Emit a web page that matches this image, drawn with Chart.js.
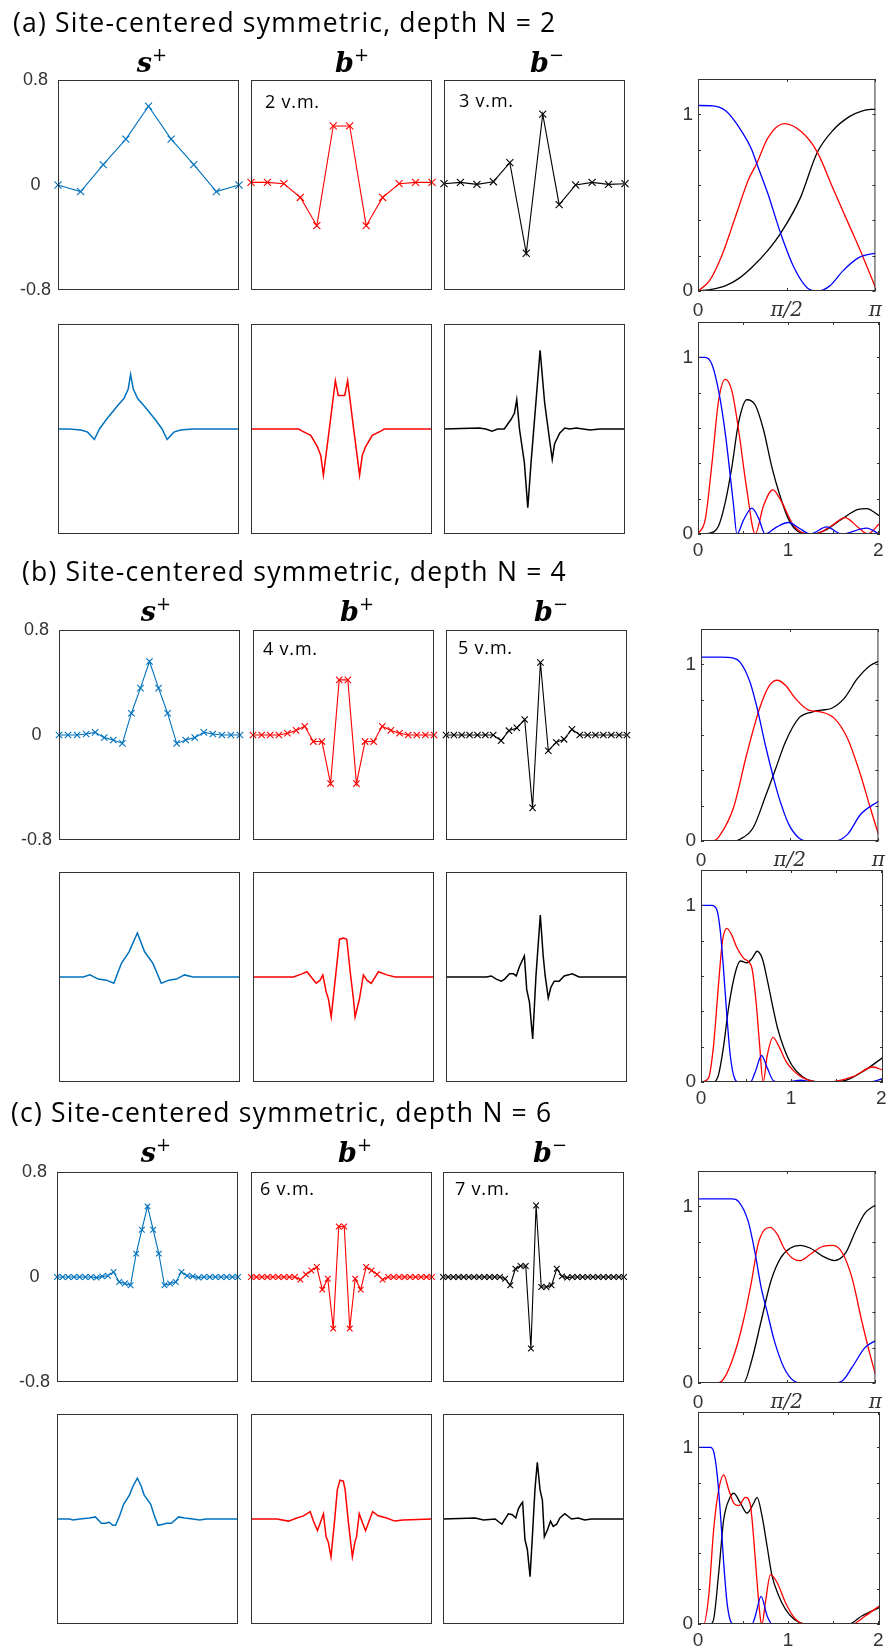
<!DOCTYPE html>
<html>
<head>
<meta charset="utf-8">
<script src="https://cdn.jsdelivr.net/npm/chart.js@4.4.1/dist/chart.umd.min.js"></script>
<style>
  body { margin: 0; background: #fff; }
  #page { position: relative; width: 890px; height: 1649px; overflow: hidden; background: #fff; }
  canvas { position: absolute; z-index: 1; }
  #labels { position: absolute; left: 0; top: 0; z-index: 2; pointer-events: none; }
</style>
</head>
<body>
<div id="page">
<svg id="labels" width="890" height="1649" xmlns="http://www.w3.org/2000/svg">
  <g font-family="Open Sans" font-size="26.5" letter-spacing="1.2" fill="#000">
    <text x="13" y="32">(a) Site-centered symmetric, depth N = 2</text>
    <text x="22" y="581">(b) Site-centered symmetric, depth N = 4</text>
    <text x="11" y="1122">(c) Site-centered symmetric, depth N = 6</text>
  </g>
  <g font-family="DejaVu Serif" font-weight="bold" font-style="italic" font-size="27" text-anchor="middle">
    <text x="152" y="72">s<tspan font-style="normal" font-weight="normal" font-size="18" dy="-11">+</tspan></text>
    <text x="352" y="72">b<tspan font-style="normal" font-weight="normal" font-size="18" dy="-11">+</tspan></text>
    <text x="547" y="72">b<tspan font-style="normal" font-weight="normal" font-size="18" dy="-11">−</tspan></text>
    <text x="156" y="621">s<tspan font-style="normal" font-weight="normal" font-size="18" dy="-11">+</tspan></text>
    <text x="357" y="621">b<tspan font-style="normal" font-weight="normal" font-size="18" dy="-11">+</tspan></text>
    <text x="551" y="621">b<tspan font-style="normal" font-weight="normal" font-size="18" dy="-11">−</tspan></text>
    <text x="156" y="1162">s<tspan font-style="normal" font-weight="normal" font-size="18" dy="-11">+</tspan></text>
    <text x="355" y="1162">b<tspan font-style="normal" font-weight="normal" font-size="18" dy="-11">+</tspan></text>
    <text x="550" y="1162">b<tspan font-style="normal" font-weight="normal" font-size="18" dy="-11">−</tspan></text>
  </g>
  <g font-family="Open Sans" font-size="18" letter-spacing="0.8" fill="#000">
    <text x="265" y="108">2 v.m.</text>
    <text x="459" y="107">3 v.m.</text>
    <text x="263" y="655">4 v.m.</text>
    <text x="458" y="654">5 v.m.</text>
    <text x="260" y="1195">6 v.m.</text>
    <text x="455" y="1195">7 v.m.</text>
  </g>
</svg>
</div>
<script>
// ---- (a) depth N = 2 ----
const sPlusA = [0, -0.05, 0.155, 0.35, 0.6, 0.35, 0.155, -0.05, 0];
const bPlusA = [0.02, 0.02, 0.01, -0.095, -0.31, 0.45, 0.45, -0.31, -0.095, 0.01, 0.02, 0.02];
const bMinusA = [0.01, 0.02, 0.005, 0.025, 0.17, -0.52, 0.54, -0.15, 0, 0.02, 0.005, 0.01];

const sFineAx = [0, 6.2, 12.7, 16.4, 20.1, 22.9, 26.7, 32.3, 36.4, 38.8, 40.1, 41.6, 44.0, 48.1, 53.7, 57.5, 60.3, 64.0, 67.7, 74.3, 80.8, 100];
const sFineAy = [0, 0, -0.01, -0.03, -0.1, 0, 0.09, 0.21, 0.29, 0.38, 0.52, 0.38, 0.29, 0.21, 0.09, 0, -0.1, -0.03, -0.01, 0, 0, 0];
const bpFineAx = [0, 19.9, 26.4, 28.3, 33.0, 36.7, 38.5, 40.0, 43.2, 46.6, 48.2, 51.8, 53.4, 56.8, 60.0, 61.5, 63.3, 67.0, 71.7, 73.6, 80.1, 100];
const bpFineAy = [0, 0, 0, -0.02, -0.06, -0.17, -0.25, -0.44, -0.01, 0.46, 0.32, 0.32, 0.46, -0.01, -0.44, -0.25, -0.17, -0.06, -0.02, 0, 0, 0];
const bmFineAx = [0, 19.4, 23.1, 26.5, 29.6, 33.3, 37.0, 38.9, 40.2, 41.7, 44.4, 46.3, 48.1, 50.9, 53.1, 55.6, 58.3, 59.8, 61.1, 63.9, 66.7, 69.4, 73.1, 80.6, 86.1, 100];
const bmFineAy = [0, 0.01, 0, -0.02, 0, 0, 0.09, 0.15, 0.28, 0, -0.32, -0.75, -0.32, 0.28, 0.75, 0.25, -0.1, -0.29, -0.14, -0.04, 0.01, 0, 0.01, -0.01, 0, 0];

// response over 0..pi (x in units of pi)
const respA_blue_x = [0, 0.083, 0.156, 0.229, 0.303, 0.330, 0.394, 0.468, 0.541, 0.615, 0.679, 0.743, 0.817, 0.908, 1.0];
const respA_blue_y = [1.05, 1.048, 1.02, 0.93, 0.80, 0.724, 0.55, 0.32, 0.133, 0.019, 0, 0.029, 0.114, 0.19, 0.215];
const respA_red_x = [0, 0.064, 0.138, 0.211, 0.284, 0.330, 0.394, 0.486, 0.578, 0.670, 0.761, 0.853, 0.927, 1.0];
const respA_red_y = [0, 0.057, 0.21, 0.42, 0.63, 0.72, 0.867, 0.947, 0.905, 0.79, 0.58, 0.37, 0.2, 0.02];
const respA_black_x = [0, 0.083, 0.156, 0.229, 0.303, 0.394, 0.468, 0.578, 0.670, 0.761, 0.853, 0.927, 1.0];
const respA_black_y = [0, 0.01, 0.03, 0.07, 0.133, 0.23, 0.33, 0.53, 0.78, 0.91, 0.987, 1.02, 1.03];

const zoomA_blue_x = [0, 0.081, 0.155, 0.229, 0.303, 0.358, 0.395, 0.432, 0.506, 0.598, 0.672, 0.745, 0.875, 1.004, 1.133, 1.244, 1.428, 1.594, 1.871, 2.011];
const zoomA_blue_y = [1.0, 1.0, 0.96, 0.81, 0.57, 0.33, 0.16, 0.0, 0.08, 0.146, 0.09, 0.0, 0.04, 0.065, 0.03, 0.0, 0.04, 0.0, 0.033, 0.0];
const zoomA_red_x = [0, 0.081, 0.155, 0.229, 0.303, 0.376, 0.450, 0.542, 0.635, 0.727, 0.830, 0.930, 1.041, 1.151, 1.299, 1.483, 1.631, 1.779, 1.882, 2.011];
const zoomA_red_y = [0, 0.084, 0.40, 0.757, 0.875, 0.81, 0.59, 0.25, 0, 0.16, 0.25, 0.18, 0.065, 0.01, 0, 0.047, 0.093, 0.037, 0, 0.056];
const zoomA_black_x = [0, 0.118, 0.229, 0.303, 0.376, 0.450, 0.542, 0.635, 0.727, 0.819, 0.911, 1.004, 1.114, 1.244, 1.410, 1.594, 1.779, 1.871, 2.011];
const zoomA_black_y = [0, 0.004, 0.047, 0.18, 0.38, 0.63, 0.76, 0.73, 0.59, 0.38, 0.215, 0.084, 0.013, 0, 0.02, 0.084, 0.14, 0.144, 0.103];

// ---- (b) depth N = 4 ----
const sPlusB = [0, 0, 0, 0.008, 0.02, -0.02, -0.038, -0.064, 0.166, 0.357, 0.56, 0.357, 0.166, -0.064, -0.038, -0.02, 0.02, 0.008, 0, 0, 0];
const bPlusB = [0, 0, 0, 0, 0.013, 0.035, 0.066, -0.05, -0.05, -0.37, 0.42, 0.42, -0.37, -0.05, -0.05, 0.066, 0.035, 0.013, 0, 0, 0, 0];
const bMinusB = [0, 0, 0, 0, 0, 0, 0, -0.043, 0.033, 0.054, 0.118, -0.555, 0.552, -0.12, -0.056, -0.033, 0.043, 0, 0, 0, 0, 0, 0, 0];

const sFineBx = [0, 2.4, 5.1, 13.4, 17.1, 21.7, 26.2, 30.3, 34.5, 38.7, 43.3, 47.3, 51.9, 56.5, 60.7, 64.8, 69.4, 74.0, 81.3, 86.8, 100];
const sFineBy = [0, 0, 0, 0, 0.02, -0.02, -0.03, -0.06, 0.13, 0.24, 0.42, 0.24, 0.13, -0.06, -0.03, -0.02, 0.02, 0, 0, 0, 0];
const bpFineBx = [0, 22.4, 27.0, 29.8, 34.9, 37.1, 38.6, 40.4, 41.7, 43.2, 45.4, 47.8, 50.0, 51.8, 53.7, 55.5, 56.4, 58.8, 61.0, 62.9, 65.3, 69.3, 73.9, 78.5, 100];
const bpFineBy = [0, 0, 0.03, 0.05, -0.06, -0.03, 0.02, -0.14, -0.21, -0.38, -0.03, 0.36, 0.37, 0.36, 0.05, -0.21, -0.38, -0.21, 0.02, -0.03, -0.06, 0.05, 0.02, 0, 0];
const bmFineBx = [0, 22.3, 25.0, 27.8, 30.5, 32.4, 35.1, 37.3, 38.8, 40.6, 43.3, 44.6, 46.1, 47.9, 49.7, 52.1, 53.7, 54.8, 56.5, 57.9, 59.8, 62.5, 65.3, 69.8, 73.5, 100];
const bmFineBy = [0, 0, 0.01, -0.02, -0.04, -0.02, 0.03, 0.03, 0.01, 0.1, 0.2, -0.12, -0.24, -0.59, 0.01, 0.59, 0.2, 0.01, -0.2, -0.1, -0.04, -0.04, 0.01, 0.03, 0, 0];

const respB_blue_x = [0, 0.110, 0.183, 0.220, 0.275, 0.312, 0.367, 0.404, 0.440, 0.495, 0.550, 0.606, 0.752, 0.826, 0.899, 1.0];
const respB_blue_y = [1.041, 1.041, 1.035, 1.013, 0.903, 0.77, 0.525, 0.375, 0.244, 0.094, 0.019, 0, 0, 0.0375, 0.15, 0.225];
const respB_red_x = [0, 0.073, 0.110, 0.183, 0.257, 0.330, 0.385, 0.431, 0.477, 0.532, 0.606, 0.679, 0.752, 0.826, 0.899, 0.954, 1.0];
const respB_red_y = [0, 0.002, 0.0375, 0.188, 0.488, 0.75, 0.88, 0.91, 0.88, 0.807, 0.741, 0.73, 0.694, 0.58, 0.375, 0.188, 0.0375];
const respB_black_x = [0, 0.183, 0.220, 0.294, 0.367, 0.422, 0.477, 0.550, 0.624, 0.679, 0.734, 0.807, 0.881, 0.954, 1.0];
const respB_black_y = [0, 0, 0.01, 0.075, 0.263, 0.413, 0.563, 0.694, 0.73, 0.741, 0.75, 0.807, 0.919, 0.994, 1.017];

const zoomB_blue_x = [0, 0.119, 0.175, 0.213, 0.250, 0.287, 0.325, 0.373, 0.418, 0.549, 0.604, 0.672, 0.735, 0.810, 0.940, 1.108, 1.239, 1.873, 2.022];
const zoomB_blue_y = [1.0, 1.0, 0.976, 0.86, 0.64, 0.375, 0.15, 0.02, 0, 0, 0.06, 0.15, 0.08, 0.005, 0, 0.01, 0, 0, 0.02];
const zoomB_red_x = [0, 0.082, 0.138, 0.194, 0.239, 0.287, 0.343, 0.399, 0.474, 0.530, 0.567, 0.612, 0.649, 0.690, 0.735, 0.799, 0.866, 0.940, 1.034, 1.127, 1.313, 1.500, 1.687, 1.910, 2.022];
const zoomB_red_y = [0, 0.02, 0.2, 0.55, 0.8, 0.87, 0.83, 0.76, 0.7, 0.68, 0.64, 0.45, 0.22, 0, 0.15, 0.253, 0.2, 0.12, 0.06, 0.025, 0, 0.005, 0.03, 0.085, 0.066];
const zoomB_black_x = [0, 0.138, 0.194, 0.250, 0.306, 0.381, 0.437, 0.511, 0.567, 0.623, 0.679, 0.735, 0.791, 0.847, 0.922, 1.015, 1.127, 1.239, 1.425, 1.612, 1.799, 2.022];
const zoomB_black_y = [0, 0, 0.04, 0.2, 0.42, 0.62, 0.685, 0.675, 0.7, 0.74, 0.7, 0.58, 0.44, 0.31, 0.19, 0.09, 0.03, 0.005, 0, 0.01, 0.06, 0.14];

// ---- (c) depth N = 6 ----
const sPlusC = [0, 0, 0, 0, 0, 0, 0, -0.005, 0.005, 0.01, 0.038, -0.038, -0.05, -0.063, 0.178, 0.36, 0.538, 0.36, 0.178, -0.063, -0.05, -0.038, 0.038, 0.01, 0.005, -0.005, 0, 0, 0, 0, 0, 0, 0];
const bPlusC = [0, 0, 0, 0, 0, 0, 0, 0, 0, -0.02, 0.02, 0.05, 0.076, -0.096, -0.013, -0.393, 0.385, 0.385, -0.393, -0.013, -0.096, 0.076, 0.05, 0.02, -0.02, 0, 0, 0, 0, 0, 0, 0, 0, 0];
const bMinusC = [0, 0, 0, 0, 0, 0, 0, 0, 0, 0, 0, 0, -0.013, -0.063, 0.063, 0.084, 0.084, -0.545, 0.545, -0.076, -0.076, -0.063, 0.063, 0.005, -0.005, 0, 0, 0, 0, 0, 0, 0, 0, 0, 0, 0];

const sFineCx = [0, 7.0, 8.8, 12.5, 18.0, 21.2, 24.5, 27.3, 28.7, 30.9, 32.4, 34.6, 36.8, 40.1, 41.9, 44.4, 46.6, 48.1, 51.8, 53.6, 55.8, 58.6, 60.4, 63.2, 67.2, 70.5, 75.1, 78.8, 82.5, 100];
const sFineCy = [0, 0, -0.01, 0, 0.01, 0.02, -0.04, -0.04, -0.03, -0.06, -0.06, 0.03, 0.14, 0.23, 0.31, 0.39, 0.31, 0.23, 0.14, 0.04, -0.06, -0.05, -0.04, -0.04, 0.02, 0.01, 0, -0.01, 0, 0];
const bpFineCx = [0, 14.3, 20.7, 25.3, 29.0, 32.7, 34.5, 36.7, 38.2, 40.0, 41.5, 42.7, 44.2, 46.1, 47.7, 49.2, 51.0, 52.0, 53.8, 56.0, 57.4, 58.3, 59.8, 61.7, 63.3, 64.8, 67.2, 70.3, 74.9, 79.4, 84.0, 100];
const bpFineCy = [0, 0, -0.02, 0.01, 0.03, 0.07, -0.02, -0.11, -0.04, 0.05, -0.17, -0.22, -0.36, -0.03, 0.28, 0.37, 0.36, 0.28, -0.03, -0.36, -0.22, -0.17, 0.05, -0.04, -0.11, -0.04, 0.07, 0.03, 0.01, -0.02, -0.01, 0];
const bmFineCx = [0, 17.8, 22.4, 28.8, 32.5, 34.7, 36.1, 38.3, 40.2, 41.7, 43.1, 44.0, 45.3, 46.6, 48.1, 49.5, 50.8, 52.1, 53.6, 54.9, 56.0, 57.8, 59.4, 60.9, 62.8, 64.6, 67.3, 71.0, 74.7, 78.3, 82.0, 100];
const bmFineCy = [0, 0.01, -0.01, 0, -0.05, 0.01, 0.05, 0.04, 0.01, 0.1, 0.14, 0.16, -0.2, -0.29, -0.55, -0.13, 0.28, 0.54, 0.28, 0.18, -0.17, -0.1, -0.02, -0.07, -0.05, 0.01, 0.05, 0, 0.01, -0.01, 0, 0];

const respC_blue_x = [0, 0.192, 0.229, 0.283, 0.320, 0.356, 0.393, 0.430, 0.484, 0.539, 0.594, 0.759, 0.814, 0.868, 0.941, 1.0];
const respC_blue_y = [1.042, 1.042, 1.027, 0.915, 0.745, 0.54, 0.39, 0.24, 0.088, 0.013, 0, 0, 0.013, 0.088, 0.2, 0.24];
const respC_red_x = [0, 0.101, 0.137, 0.192, 0.247, 0.302, 0.338, 0.375, 0.408, 0.448, 0.484, 0.530, 0.576, 0.631, 0.704, 0.759, 0.814, 0.868, 0.923, 0.969, 1.0];
const respC_red_y = [0, 0, 0.013, 0.126, 0.314, 0.577, 0.783, 0.868, 0.881, 0.84, 0.764, 0.708, 0.693, 0.727, 0.774, 0.779, 0.736, 0.595, 0.351, 0.163, 0.05];
const respC_black_x = [0, 0.192, 0.256, 0.302, 0.356, 0.411, 0.466, 0.521, 0.576, 0.631, 0.704, 0.768, 0.832, 0.887, 0.941, 1.0];
const respC_black_y = [0, 0, 0, 0.126, 0.351, 0.577, 0.708, 0.764, 0.779, 0.764, 0.717, 0.693, 0.736, 0.858, 0.961, 1.008];

const zoomC_blue_x = [0, 0.137, 0.174, 0.211, 0.248, 0.285, 0.322, 0.359, 0.396, 0.6, 0.637, 0.7, 0.767, 0.822, 2.015];
const zoomC_blue_y = [1.0, 1.0, 0.976, 0.854, 0.63, 0.347, 0.122, 0.019, 0, 0, 0.047, 0.156, 0.047, 0, 0];
const zoomC_red_x = [0, 0.063, 0.119, 0.174, 0.230, 0.285, 0.341, 0.396, 0.452, 0.526, 0.581, 0.619, 0.656, 0.693, 0.711, 0.748, 0.804, 0.878, 0.970, 1.081, 1.193, 1.711, 1.859, 2.015];
const zoomC_red_y = [0, 0, 0.16, 0.535, 0.76, 0.844, 0.76, 0.685, 0.67, 0.717, 0.675, 0.478, 0.235, 0.028, 0, 0.122, 0.28, 0.235, 0.122, 0.028, 0, 0, 0.047, 0.103];
const zoomC_black_x = [0, 0.137, 0.174, 0.230, 0.285, 0.359, 0.396, 0.470, 0.544, 0.619, 0.656, 0.711, 0.767, 0.822, 0.896, 0.970, 1.063, 1.193, 1.674, 1.822, 2.015];
const zoomC_black_y = [0, 0, 0.028, 0.29, 0.59, 0.72, 0.74, 0.685, 0.628, 0.685, 0.717, 0.61, 0.44, 0.272, 0.16, 0.084, 0.028, 0, 0, 0.047, 0.094];

// tick labels
const waveTicks = [[-0.8, '-0.8'], [0, '0'], [0.8, '0.8']];
const gainTicks = [[0, '0'], [1, '1']];
const piTicks = [[0, '0'], [0.5, 'π/2'], [1, 'π']];
const freqTicks = [[0, '0'], [1, '1'], [2, '2']];

const AXIS = '#333333';
const markColors = ['#0072bd', '#ff0000', '#000000'];
const page = document.getElementById('page');

// frame box + inward tick marks like the original
Chart.register({
  id: 'boxTicks',
  afterDatasetsDraw(chart, args, opts) {
    const a = chart.chartArea, ctx = chart.ctx, len = 3;
    ctx.save();
    ctx.strokeStyle = AXIS;
    ctx.lineWidth = 1;
    ctx.strokeRect(a.left + 0.5, a.top + 0.5, a.right - a.left - 1, a.bottom - a.top - 1);
    ctx.beginPath();
    (opts.xt || []).forEach(v => {
      const p = Math.round(chart.scales.x.getPixelForValue(v)) + 0.5;
      ctx.moveTo(p, a.bottom); ctx.lineTo(p, a.bottom - len);
      ctx.moveTo(p, a.top); ctx.lineTo(p, a.top + len);
    });
    (opts.yt || []).forEach(v => {
      const p = Math.round(chart.scales.y.getPixelForValue(v)) + 0.5;
      ctx.moveTo(a.left, p); ctx.lineTo(a.left + len, p);
      ctx.moveTo(a.right, p); ctx.lineTo(a.right - len, p);
    });
    ctx.stroke();
    ctx.restore();
  }
});

function axis(dir, min, max, size, labels, font, pad, align) {
  const s = { type: 'linear', min: min, max: max, display: !!size,
    grid: { display: false, drawTicks: false }, border: { display: false } };
  if (size) {
    s.afterFit = sc => { if (dir === 'x') sc.height = size; else sc.width = size; };
    s.afterBuildTicks = sc => { sc.ticks = labels.map(l => ({ value: l[0] })); };
    s.ticks = { autoSkip: false, maxRotation: 0, color: AXIS, padding: pad,
      crossAlign: align || 'near', font: font, callback: (v, i) => labels[i][1] };
  }
  return s;
}

function plot(box, datasets, o) {
  const left = box[0], top = box[1], w = box[2], h = box[3];
  const ml = o.yw || 8, mb = o.xh || 22, mt = 22, mr = 10;
  const cv = document.createElement('canvas');
  cv.width = w + ml + mr;
  cv.height = h + mt + mb;
  cv.style.left = (left - ml) + 'px';
  cv.style.top = (top - mt) + 'px';
  page.appendChild(cv);
  new Chart(cv, {
    type: 'line',
    data: { datasets: datasets },
    options: {
      responsive: false, animation: false, events: [],
      layout: { padding: { left: o.yw ? 0 : ml, right: mr, top: mt, bottom: o.xh ? 0 : mb } },
      plugins: { legend: { display: false }, tooltip: { enabled: false }, boxTicks: { xt: o.xt, yt: o.yt } },
      scales: {
        x: axis('x', o.xmin, o.xmax, o.xh, o.xlab, o.xfont, o.xpad),
        y: axis('y', o.ymin, o.ymax, o.yw, o.ylab, o.yfont, o.ypad, o.yalign)
      }
    }
  });
}

function markSet(vals, color, r) {
  return { data: vals.map((v, i) => ({ x: i, y: v })), borderColor: color, borderWidth: 1.1,
    pointStyle: 'crossRot', pointRadius: r, pointBorderWidth: 1.1, pointBorderColor: color,
    pointBackgroundColor: color, tension: 0, clip: false };
}

function lineSet(xs, ys, color, width, smooth) {
  const d = { data: xs.map((x, i) => ({ x: x, y: ys[i] })), borderColor: color, borderWidth: width,
    pointRadius: 0, tension: 0 };
  if (smooth) d.cubicInterpolationMode = 'monotone';
  return d;
}

const sansFont = { family: "'Liberation Sans', Arial, sans-serif", size: 18 };
const gainFont = { family: "'Liberation Sans', Arial, sans-serif", size: 19 };
const piFont = ctx => (ctx.tick && ctx.tick.value > 0)
  ? { family: "'DejaVu Serif', serif", style: 'italic', size: 20 }
  : { family: "'Liberation Sans', Arial, sans-serif", size: 19 };

const sections = [
  { top: 80, bottom: 324, cols: [58, 251, 444, 698], r: 5,
    marks: [sPlusA, bPlusA, bMinusA],
    fine: [[sFineAx, sFineAy], [bpFineAx, bpFineAy], [bmFineAx, bmFineAy]],
    resp: [[respA_blue_x, respA_blue_y], [respA_red_x, respA_red_y], [respA_black_x, respA_black_y]],
    zoom: [[zoomA_blue_x, zoomA_blue_y], [zoomA_red_x, zoomA_red_y], [zoomA_black_x, zoomA_black_y]] },
  { top: 630, bottom: 872, cols: [59, 253, 446, 701], r: 4.5,
    marks: [sPlusB, bPlusB, bMinusB],
    fine: [[sFineBx, sFineBy], [bpFineBx, bpFineBy], [bmFineBx, bmFineBy]],
    resp: [[respB_blue_x, respB_blue_y], [respB_red_x, respB_red_y], [respB_black_x, respB_black_y]],
    zoom: [[zoomB_blue_x, zoomB_blue_y], [zoomB_red_x, zoomB_red_y], [zoomB_black_x, zoomB_black_y]] },
  { top: 1172, bottom: 1414, cols: [57, 251, 443, 698], r: 4,
    marks: [sPlusC, bPlusC, bMinusC],
    fine: [[sFineCx, sFineCy], [bpFineCx, bpFineCy], [bmFineCx, bmFineCy]],
    resp: [[respC_blue_x, respC_blue_y], [respC_red_x, respC_red_y], [respC_black_x, respC_black_y]],
    zoom: [[zoomC_blue_x, zoomC_blue_y], [zoomC_red_x, zoomC_red_y], [zoomC_black_x, zoomC_black_y]] }
];

const curveColors = ['#0000ff', '#ff0000', '#000000'];
const yGrid = [0, 0.2, 0.4, 0.6, 0.8, 1.0, 1.2];

sections.forEach(s => {
  for (let k = 0; k < 3; k++) {
    const vals = s.marks[k];
    plot([s.cols[k], s.top, 181, 210], [markSet(vals, markColors[k], s.r)], {
      xmin: 0, xmax: vals.length - 1, ymin: -0.8, ymax: 0.8,
      yw: k === 0 ? s.cols[0] : 0, ylab: waveTicks, yfont: sansFont, ypad: 7, yalign: 'center'
    });
    plot([s.cols[k], s.bottom, 181, 210], [lineSet(s.fine[k][0], s.fine[k][1], markColors[k], 1.5, false)], {
      xmin: 0, xmax: 100, ymin: -1, ymax: 1
    });
  }
  plot([s.cols[3], s.top - 1, 182, 212], s.resp.map((c, i) => lineSet(c[0], c[1], curveColors[i], 1.3, true)), {
    xmin: 0, xmax: 1, ymin: 0, ymax: 1.2,
    yw: 30, ylab: gainTicks, yfont: gainFont, ypad: 5,
    xh: 32, xlab: piTicks, xfont: piFont, xpad: 8,
    xt: [0, 0.5, 1], yt: yGrid
  });
  plot([s.cols[3], s.bottom - 2, 182, 212], s.zoom.map((c, i) => lineSet(c[0], c[1], curveColors[i], 1.3, true)), {
    xmin: 0, xmax: 2.02, ymin: 0, ymax: 1.2,
    yw: 30, ylab: gainTicks, yfont: gainFont, ypad: 5,
    xh: 28, xlab: freqTicks, xfont: gainFont, xpad: 5,
    xt: [0, 0.5, 1, 1.5, 2], yt: yGrid
  });
});
</script>
</body>
</html>
